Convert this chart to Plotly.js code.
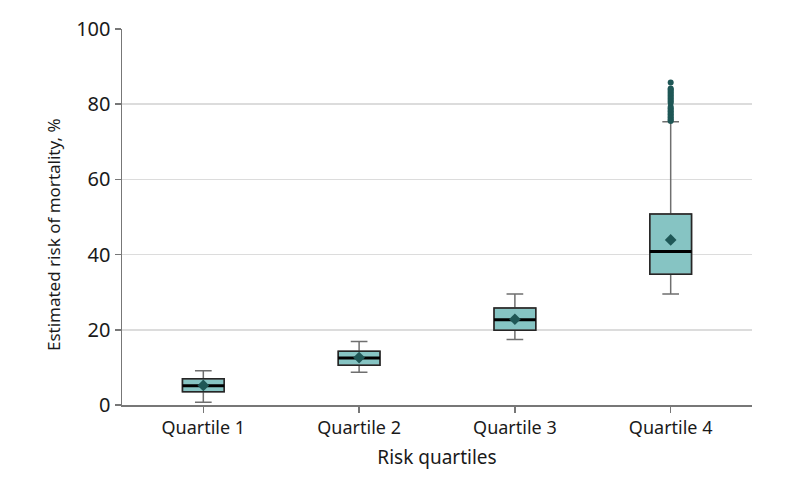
<!DOCTYPE html>
<html>
<head>
<meta charset="utf-8">
<script src="https://cdn.plot.ly/plotly-3.0.1.min.js"></script>
<style>html,body{margin:0;padding:0;background:#fff;}#chart{width:794px;height:490px;}</style>
</head>
<body>
<div id="chart"></div>
<script>
const categories = ["Quartile 1", "Quartile 2", "Quartile 3", "Quartile 4"];
const lowerFence = [0.7, 8.7, 17.4, 29.5];
const q1 = [3.5, 10.6, 19.9, 34.8];
const median = [5.1, 12.5, 22.7, 40.8];
const q3 = [7.0, 14.3, 25.8, 50.8];
const upperFence = [9.1, 16.9, 29.5, 75.3];
const means = [5.2, 12.6, 22.8, 43.9];
const outliersQ4 = [75.5, 75.8, 76.1, 76.5, 76.9, 77.3, 77.7, 78.1, 78.5, 78.9, 79.3,
  80.3, 80.7, 81.1, 81.5, 81.9, 82.3, 82.7, 83.1, 83.5, 83.9, 84.2, 85.8];
const yTicks = [0, 20, 40, 60, 80, 100];

const idx = categories.map((c, i) => i);
const boxW = 0.268;
const fillColor = '#86c4c3';
const darkTeal = '#1f5756';
const font = 'Noto Sans, sans-serif';

const medX = [], medY = [];
idx.forEach(i => { medX.push(i - boxW / 2, i + boxW / 2, null); medY.push(median[i], median[i], null); });

const traces = [
  { type: 'box', x: idx, q1: q1, median: median, q3: q3, lowerfence: lowerFence, upperfence: upperFence,
    width: boxW, whiskerwidth: 0.4, fillcolor: fillColor, line: { color: '#6f6f6f', width: 1.5 },
    boxpoints: false, hoverinfo: 'skip', showlegend: false },
  { type: 'box', x: idx, q1: q1, median: median, q3: q3, lowerfence: q1, upperfence: q3,
    width: boxW, whiskerwidth: 0, fillcolor: 'rgba(0,0,0,0)', line: { color: '#262626', width: 1.5 },
    boxpoints: false, hoverinfo: 'skip', showlegend: false },
  { type: 'scatter', mode: 'lines', x: medX, y: medY, line: { color: '#000', width: 3 },
    hoverinfo: 'skip', showlegend: false },
  { type: 'scatter', mode: 'markers', x: idx, y: means,
    marker: { symbol: 'diamond', size: 9, color: darkTeal }, showlegend: false },
  { type: 'scatter', mode: 'markers', x: outliersQ4.map(() => 3), y: outliersQ4,
    marker: { symbol: 'circle', size: 6, color: darkTeal }, showlegend: false }
];

const layout = {
  width: 794, height: 490,
  margin: { l: 122, r: 42, t: 29, b: 85 },
  paper_bgcolor: '#fff', plot_bgcolor: '#fff',
  font: { family: font, size: 16, color: '#1a1a1a' },
  showlegend: false,
  xaxis: {
    range: [-0.522, 3.522], tickmode: 'array', tickvals: idx, ticktext: categories,
    showgrid: false, zeroline: false, showline: true, linecolor: '#777', linewidth: 1.5,
    ticks: 'outside', ticklen: 6, tickcolor: '#777', tickwidth: 1.5,
    tickfont: { family: font, size: 18, color: '#1a1a1a' },
    title: { text: 'Risk quartiles', font: { family: font, size: 19, color: '#1a1a1a' }, standoff: 12 }
  },
  yaxis: {
    range: [0, 100], tickmode: 'array', tickvals: yTicks,
    showgrid: true, gridcolor: '#dcdcdc', gridwidth: 1.5, zeroline: false,
    showline: true, linecolor: '#777', linewidth: 1.5,
    ticks: 'outside', ticklen: 6, tickcolor: '#777', tickwidth: 1.5,
    tickfont: { family: font, size: 20, color: '#1a1a1a' }
  },
  annotations: [{
    text: 'Estimated risk of mortality, %', textangle: -90, showarrow: false,
    xref: 'paper', yref: 'paper', x: -0.1095, y: 0.452, xanchor: 'center', yanchor: 'middle',
    font: { family: font, size: 17, color: '#1a1a1a' }
  }]
};

Plotly.newPlot('chart', traces, layout, { displayModeBar: false, staticPlot: true });
</script>
</body>
</html>
